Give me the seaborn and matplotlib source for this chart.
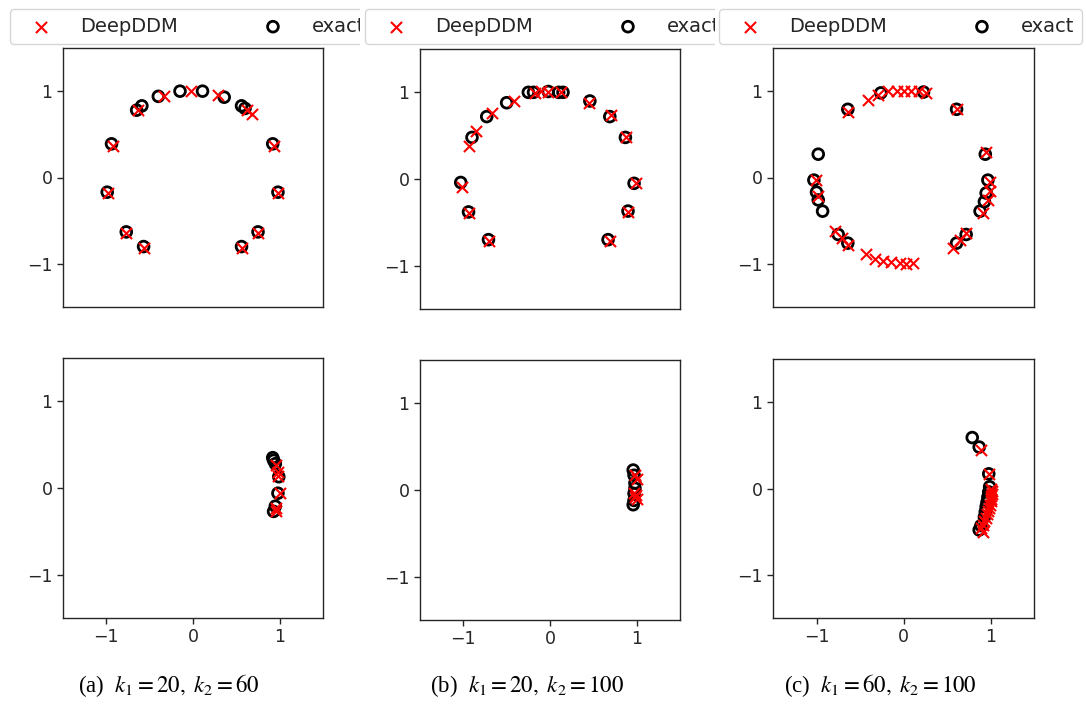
import matplotlib
matplotlib.use("Agg")
import matplotlib.pyplot as plt
from matplotlib.patches import Rectangle
import seaborn as sns

sns.set_style("ticks")
plt.rcParams["font.family"] = ["DejaVu Sans"]
plt.rcParams["mathtext.fontset"] = "stix"
plt.rcParams["axes.linewidth"] = 1.0

# (a) k1=20, k2=60
a_top_exact_x = [-0.15, 0.11, -0.40, 0.36, -0.65, -0.59, 0.56, 0.60, -0.94, 0.92, -0.99, 0.98, -0.77, 0.75, -0.57, 0.56]
a_top_exact_y = [1.00, 1.00, 0.94, 0.93, 0.78, 0.83, 0.83, 0.80, 0.39, 0.39, -0.17, -0.17, -0.63, -0.63, -0.80, -0.80]
a_top_ddm_x = [-0.34, -0.02, 0.29, -0.63, 0.62, 0.68, -0.92, 0.93, -0.98, 0.985, -0.77, 0.75, -0.56, 0.56]
a_top_ddm_y = [0.94, 1.00, 0.95, 0.78, 0.78, 0.74, 0.37, 0.37, -0.18, -0.18, -0.64, -0.64, -0.82, -0.82]
a_bot_exact_x = [0.92, 0.93, 0.95, 0.99, 0.98, 0.95, 0.93]
a_bot_exact_y = [0.35, 0.32, 0.28, 0.13, -0.06, -0.21, -0.27]
a_bot_ddm_x = [0.96, 0.98, 0.98, 1.00, 0.955, 0.96]
a_bot_ddm_y = [0.27, 0.19, 0.14, -0.06, -0.23, -0.27]

# (b) k1=20, k2=100
b_top_exact_x = [-0.25, -0.19, -0.02, 0.10, 0.15, -0.50, -0.73, -0.90, -1.03, -0.94, -0.71, 0.46, 0.69, 0.87, 0.97, 0.90, 0.67]
b_top_exact_y = [1.00, 1.00, 1.01, 1.00, 1.00, 0.88, 0.72, 0.48, -0.04, -0.38, -0.70, 0.90, 0.72, 0.48, -0.05, -0.37, -0.70]
b_top_ddm_x = [-0.94, -0.85, -0.67, -0.42, -0.17, -0.10, -0.02, 0.13, 0.45, 0.70, 0.88, 0.99, -1.02, -0.93, 0.90, -0.70, 0.69]
b_top_ddm_y = [0.38, 0.55, 0.76, 0.90, 0.99, 1.01, 1.00, 1.00, 0.88, 0.74, 0.48, -0.05, -0.09, -0.39, -0.38, -0.71, -0.71]
b_bot_exact_x = [0.96, 0.97, 0.98, 0.98, 0.97, 0.97, 0.96]
b_bot_exact_y = [0.23, 0.17, 0.08, 0.02, -0.04, -0.12, -0.17]
b_bot_ddm_x = [0.98, 1.00, 0.97, 0.99, 1.00, 0.98]
b_bot_ddm_y = [0.17, 0.13, -0.04, -0.06, -0.10, -0.08]

# (c) k1=60, k2=100
c_top_exact_x = [-0.26, 0.23, -0.64, 0.61, -0.98, 0.94, -1.03, -1.00, -0.98, -0.93, 0.97, 0.95, 0.93, 0.88, -0.75, -0.64, 0.72, 0.61]
c_top_exact_y = [0.98, 0.99, 0.79, 0.79, 0.27, 0.27, -0.03, -0.17, -0.26, -0.39, -0.03, -0.18, -0.28, -0.39, -0.66, -0.76, -0.66, -0.76]
c_top_ddm_x = [-0.41, -0.29, -0.18, -0.08, 0.01, 0.09, 0.18, 0.26, -0.64, 0.62, 0.95, -1.01, -0.98, 0.99, 0.99, 0.97, 0.91,
               -0.79, -0.71, -0.64, 0.57, 0.65, 0.72, -0.43, -0.33, -0.23, -0.14, -0.04, 0.03, 0.11]
c_top_ddm_y = [0.90, 0.95, 1.00, 1.00, 1.00, 1.00, 1.00, 0.98, 0.76, 0.79, 0.29, -0.03, -0.22, -0.05, -0.16, -0.26, -0.41,
               -0.62, -0.70, -0.78, -0.82, -0.72, -0.64, -0.89, -0.94, -0.97, -0.98, -0.99, -1.00, -0.99]
c_bot_exact_x = [0.79, 0.87, 0.98, 0.99, 0.98, 0.97, 0.96, 0.95, 0.94, 0.93, 0.89, 0.87]
c_bot_exact_y = [0.59, 0.48, 0.17, 0.02, -0.04, -0.10, -0.16, -0.21, -0.27, -0.33, -0.43, -0.48]
c_bot_ddm_x = [0.89, 0.98, 1.01, 1.02, 1.02, 1.01, 1.01, 1.00, 0.99, 0.98, 0.97, 0.96, 0.95, 0.93, 0.91, 0.89, 0.91]
c_bot_ddm_y = [0.45, 0.17, 0.00, -0.03, -0.06, -0.09, -0.12, -0.15, -0.19, -0.23, -0.26, -0.30, -0.34, -0.38, -0.42, -0.46, -0.50]

CAPTIONS = [r"(a)  $k_1=20,\ k_2=60$", r"(b)  $k_1=20,\ k_2=100$", r"(c)  $k_1=60,\ k_2=100$"]
LABELS = ["DeepDDM", "exact"]
TICKS = [-1, 0, 1]
LIM = (-1.5, 1.5)

panels = [
    ((a_top_exact_x, a_top_exact_y, a_top_ddm_x, a_top_ddm_y),
     (a_bot_exact_x, a_bot_exact_y, a_bot_ddm_x, a_bot_ddm_y)),
    ((b_top_exact_x, b_top_exact_y, b_top_ddm_x, b_top_ddm_y),
     (b_bot_exact_x, b_bot_exact_y, b_bot_ddm_x, b_bot_ddm_y)),
    ((c_top_exact_x, c_top_exact_y, c_top_ddm_x, c_top_ddm_y),
     (c_bot_exact_x, c_bot_exact_y, c_bot_ddm_x, c_bot_ddm_y)),
]

W, H = 1086, 704
fig = plt.figure(figsize=(W / 100, H / 100), dpi=100)


def box(left, top, right, bottom):
    return [left / W, 1 - bottom / H, (right - left) / W, (bottom - top) / H]


# pixel layout of each column (each column was a separate image)
col_x = [(63, 323), (420, 680), (773, 1034)]
top_y = [(48, 307), (49, 309), (48, 307)]
bot_y = [(358, 618), (360, 620), (359, 618)]
col_span = [(0, 360), (360, 715), (715, 1086)]
legend_left = [10, 365, 719]
caption_x = [169, 527, 880]


def draw(ax, ex, ey, dx, dy, bottom):
    sns.scatterplot(x=ex, y=ey, ax=ax, marker="o", s=60, facecolor="none",
                    edgecolor="black", linewidth=2.0, label=LABELS[1], zorder=2)
    sns.scatterplot(x=dx, y=dy, ax=ax, marker="x", s=64, color="red",
                    linewidth=1.5, label=LABELS[0], zorder=3)
    ax.set_xlim(LIM)
    ax.set_ylim(LIM)
    ax.set_yticks(TICKS)
    if bottom:
        ax.set_xticks(TICKS)
    else:
        ax.set_xticks([])
    ax.tick_params(labelsize=12.5, length=4, width=1)
    if ax.get_legend():
        ax.get_legend().remove()


for i, (top, bot) in enumerate(panels):
    z = 2 * i
    if i > 0:
        # white sheet of the next image hides the legend that runs past its column
        fig.patches.append(Rectangle((col_span[i][0] / W, 0), (col_span[i][1] - col_span[i][0]) / W, 1,
                                     transform=fig.transFigure, facecolor="white",
                                     edgecolor="none", zorder=z))
    ax_t = fig.add_axes(box(col_x[i][0], top_y[i][0], col_x[i][1], top_y[i][1]), zorder=z + 1)
    draw(ax_t, *top, bottom=False)
    ax_b = fig.add_axes(box(col_x[i][0], bot_y[i][0], col_x[i][1], bot_y[i][1]), zorder=z + 1)
    draw(ax_b, *bot, bottom=True)

    handles, labels = ax_t.get_legend_handles_labels()
    order = [labels.index(l) for l in LABELS]
    ax_t.legend([handles[k] for k in order], LABELS, loc="upper left",
                bbox_to_anchor=(legend_left[i] / W, 1 - 9 / H, 363 / W, 0),
                bbox_transform=fig.transFigure, mode="expand", ncol=2,
                borderaxespad=0, handlelength=2.4, handletextpad=0.8,
                fontsize=14, frameon=True, scatterpoints=1)

    fig.text(caption_x[i] / W, 1 - 686 / H, CAPTIONS[i], ha="center", va="center",
             fontsize=16.5, family="Liberation Serif", color="black", zorder=z + 1)

fig.savefig("out.png", dpi=100)
